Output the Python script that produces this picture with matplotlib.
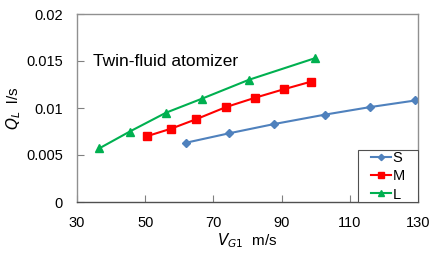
import matplotlib.pyplot as plt
from matplotlib.patches import Rectangle

plt.rcParams['font.family'] = ['Liberation Sans', 'DejaVu Sans']

vg_s = [61.9, 74.5, 87.9, 102.8, 116.0, 129.2]
ql_s = [0.0063, 0.0073, 0.0083, 0.0093, 0.0101, 0.0108]
vg_m = [50.5, 57.6, 64.9, 73.7, 82.3, 90.7, 98.6]
ql_m = [0.0070, 0.0078, 0.0088, 0.0101, 0.0111, 0.0120, 0.0128]
vg_l = [36.5, 45.5, 56.1, 66.7, 80.4, 99.8]
ql_l = [0.0057, 0.0075, 0.0095, 0.0110, 0.0130, 0.0153]

xticks = [30, 50, 70, 90, 110, 130]
yticks = [0, 0.005, 0.01, 0.015, 0.02]
ytick_labels = ['0', '0.005', '0.01', '0.015', '0.02']

W, H = 432, 259
fig = plt.figure(figsize=(W / 100, H / 100), dpi=100)
ax = fig.add_axes([77 / W, 1 - 202 / H, 341 / W, 188 / H])

ax.plot(vg_s, ql_s, color='#4F81BD', marker='D', markersize=4, lw=1.5, label='S')
ax.plot(vg_m, ql_m, color='#FF0000', marker='s', markersize=5.5, lw=1.5, label='M')
ax.plot(vg_l, ql_l, color='#00B050', marker='^', markersize=6, lw=1.5, label='L')

ax.set_xlim(30, 130)
ax.set_ylim(0, 0.02)
ax.set_xticks(xticks)
ax.set_yticks(yticks)
ax.set_yticklabels(ytick_labels)
ax.tick_params(axis='x', direction='in', length=5, color='#808080', labelsize=10.5, pad=10)
ax.tick_params(axis='y', direction='in', length=5, color='#808080', labelsize=10.5, pad=10)
for sp in ax.spines.values():
    sp.set_color('#909090')
    sp.set_linewidth(1)
ax.spines['bottom'].set_color('#505050')

ax.text(16 / 341, (202 - 61) / 188, 'Twin-fluid atomizer', transform=ax.transAxes,
        fontsize=12.5, va='center', ha='left')

ax.set_xlabel('$V_{G1}$  m/s', fontsize=11, labelpad=1)
ax.set_ylabel('$Q_L$  l/s', fontsize=11, labelpad=2)

# legend box drawn separately (wide side padding like the original)
box = Rectangle((358 / W, 1 - 202 / H), 60 / W, 52 / H, transform=fig.transFigure,
                facecolor='white', edgecolor='#505050', lw=0.8, zorder=5, clip_on=False)
ax.add_patch(box)
leg = ax.legend(loc='center', bbox_to_anchor=(388 / W, 1 - 176.5 / H),
                bbox_transform=fig.transFigure, fontsize=10.5, frameon=False,
                handlelength=1.4, handletextpad=0.1, labelspacing=0.28, borderpad=0,
                markerscale=0.8)
leg.set_zorder(6)

fig.savefig('out.png', dpi=100)
